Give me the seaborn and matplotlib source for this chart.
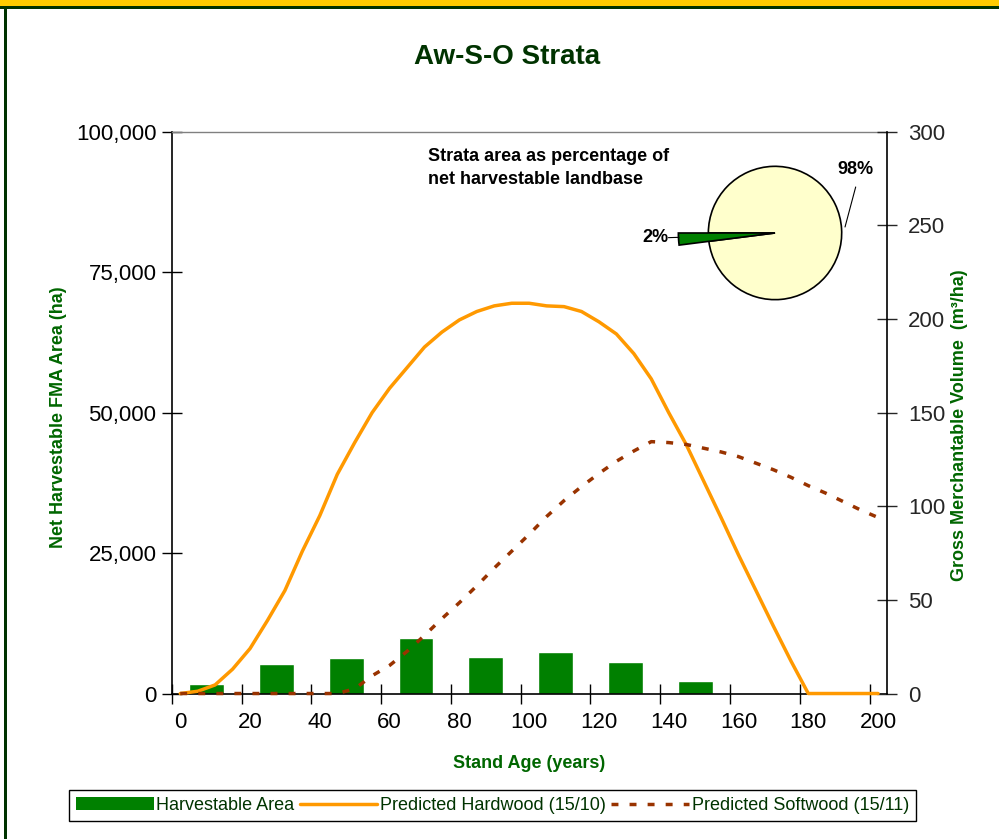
import matplotlib
matplotlib.use('Agg')
import numpy as np
import matplotlib.pyplot as plt
import seaborn as sns
from matplotlib.transforms import ScaledTranslation
from matplotlib.patches import Patch, Rectangle
from matplotlib.lines import Line2D
from matplotlib.ticker import StrMethodFormatter

sns.set_style('white')
plt.rcParams['font.family'] = ['Liberation Sans', 'DejaVu Sans']

# ---- data ----
# harvestable area by 20-year age class (class midpoints)
bar_age = [10, 30, 50, 70, 90, 110, 130, 150]
bar_area = [1700, 5250, 6300, 9900, 6550, 7400, 5600, 2250]

# yield curves, m3/ha every 5 years
ages = [0, 5, 10, 15, 20, 25, 30, 35, 40, 45, 50, 55, 60, 65, 70, 75, 80,
        85, 90, 95, 100, 105, 110, 115, 120, 125, 130, 135, 140, 145, 150,
        155, 160, 165, 170, 175, 180, 185, 190, 195, 200]
hardwood = [0, 1.2, 4.6, 13, 24, 39, 55, 76, 95, 117, 134, 150, 163, 174,
            185, 193, 199.5, 204, 207, 208.4, 208.4, 207, 206.6, 204, 198.5,
            192, 181.5, 168, 150, 133, 113.5, 94, 74, 55, 36, 17.5, 0, 0, 0,
            0, 0]
softwood = [0, 0, 0, 0, 0, 0, 0, 0, 0, 0, 2.5, 9.5, 15, 22.5, 31, 40, 48.5,
            57.5, 67, 76, 85, 94.5, 103, 110.5, 117.5, 124, 129.5, 134.5, 134,
            133, 131, 129, 126.5, 123, 119.5, 115.5, 111, 107, 102.5, 98, 94]

pie_share = [98, 2]
pie_labels = ['98%', '2%']

x_ticks = [0, 20, 40, 60, 80, 100, 120, 140, 160, 180, 200]
left_ticks = [0, 25000, 50000, 75000, 100000]
right_ticks = [0, 50, 100, 150, 200, 250, 300]

GREEN = '#008000'
ORANGE = '#FF9900'
BROWN = '#993300'
CREAM = '#FFFFCC'
TITLE_GREEN = '#003300'
LABEL_GREEN = '#006600'

fig = plt.figure(figsize=(9.99, 8.39), dpi=100)

# page border bits
fig.add_artist(Rectangle((0, 1 - 6 / 839), 1, 6 / 839, transform=fig.transFigure,
                         color='#FFCC00', lw=0))
fig.add_artist(Rectangle((0, 1 - 8.5 / 839), 1, 2.5 / 839, transform=fig.transFigure,
                         color=TITLE_GREEN, lw=0))
fig.add_artist(Rectangle((4 / 999, 0), 3 / 999, 1 - 6 / 839, transform=fig.transFigure,
                         color=TITLE_GREEN, lw=0))

ax = fig.add_axes([0.1719, 0.1734, 0.716, 0.6696])
ax2 = ax.twinx()

# bars
sns.barplot(x=bar_age, y=bar_area, native_scale=True, width=0.5, color=GREEN,
            saturation=1, errorbar=None, ax=ax)

# lines
sns.lineplot(x=ages, y=hardwood, color=ORANGE, lw=2.5, errorbar=None, ax=ax2)
sns.lineplot(x=ages, y=softwood, color=BROWN, lw=2.5, errorbar=None, ax=ax2)
ax2.lines[1].set_linestyle((0, (2, 3.2)))

# lines and x labels sit a bit right of the tick marks (Excel category axis)
shift = ScaledTranslation(0.085, 0, fig.dpi_scale_trans)
for ln in ax2.lines:
    ln.set_transform(ax2.transData + shift)
    ln.set_clip_on(False)

ax.set_xlim(0, 205)
ax.set_ylim(0, 100000)
ax2.set_ylim(0, 300)
ax.set_xticks(x_ticks)
ax.set_yticks(left_ticks)
ax2.set_yticks(right_ticks)
ax.yaxis.set_major_formatter(StrMethodFormatter('{x:,.0f}'))

ax.tick_params(axis='both', direction='inout', length=14, width=1, labelsize=16,
               colors='black', left=True, bottom=True)
ax.tick_params(axis='x', pad=6)
ax.tick_params(axis='y', pad=4)
ax2.tick_params(axis='y', direction='inout', length=14, width=1, labelsize=16,
                pad=8, right=True)
for lbl in ax.get_xticklabels():
    lbl.set_transform(lbl.get_transform() + shift)

for s in ['left', 'bottom']:
    ax.spines[s].set_color('black')
    ax.spines[s].set_linewidth(1.2)
ax.spines['top'].set_color('#808080')
ax.spines['top'].set_linewidth(1)
ax.spines['right'].set_visible(False)
for s in ['top', 'left', 'bottom']:
    ax2.spines[s].set_visible(False)
ax2.spines['right'].set_color('black')
ax2.spines['right'].set_linewidth(1.2)

ax.set_xlabel('Stand Age (years)', fontsize=13, fontweight='bold', color=LABEL_GREEN)
ax.xaxis.set_label_coords(0.5, -0.11)
ax.set_ylabel('Net Harvestable FMA Area (ha)', fontsize=13, fontweight='bold',
              color=LABEL_GREEN)
ax.yaxis.set_label_coords(-0.147, 0.492)
ax2.set_ylabel('Gross Merchantable Volume  (m³/ha)', fontsize=13, fontweight='bold',
               color=LABEL_GREEN)
ax2.yaxis.set_label_coords(1.089, 0.478)

fig.text(507 / 999, 1 - 57 / 839, 'Aw-S-O Strata', ha='center', va='center',
         fontsize=20, fontweight='bold', color=TITLE_GREEN)

# pie inset
fig.text(428 / 999, 1 - 148 / 839, 'Strata area as percentage of\nnet harvestable landbase',
         ha='left', va='top', fontsize=13, fontweight='bold', color='black',
         linespacing=1.45)
pax = fig.add_axes([0.6757, 0.6031, 0.2002, 0.2384])
wedges, _ = pax.pie(pie_share, colors=[CREAM, GREEN], startangle=187.2,
                    counterclock=True, radius=1,
                    wedgeprops=dict(edgecolor='black', linewidth=1.2))
wedges[1].set_radius(1.45)
pax.set_xlim(-1.5, 1.5)
pax.set_ylim(-1.5, 1.5)
pax.set_aspect('equal')
pax.axis('off')
pax.text(1.2, 0.945, pie_labels[0], ha='center', va='center', fontsize=13,
         fontweight='bold', color='black', clip_on=False)
pax.plot([1.21, 1.05], [0.69, 0.09], color='black', lw=0.8, clip_on=False)
pax.text(-1.8, -0.075, pie_labels[1], ha='center', va='center', fontsize=13,
         fontweight='bold', color='black', clip_on=False)
pax.plot([-1.6, -1.44], [-0.07, -0.065], color='black', lw=0.8, clip_on=False)

# legend
handles = [Patch(facecolor=GREEN, edgecolor='none'),
           Line2D([], [], color=ORANGE, lw=2.5),
           Line2D([], [], color=BROWN, lw=2.5, linestyle=(0, (2, 3.2)))]
labels = ['Harvestable Area', 'Predicted Hardwood (15/10)', 'Predicted Softwood (15/11)']
leg = fig.legend(handles, labels, loc='center', bbox_to_anchor=(492.5 / 999, 1 - 805.5 / 839),
                 ncol=3, frameon=True, fancybox=False, edgecolor='black', framealpha=1,
                 fontsize=13, handlelength=4.3, handletextpad=0.15, columnspacing=0.3,
                 borderpad=0.4, labelcolor=TITLE_GREEN)
leg.get_frame().set_linewidth(1)

fig.savefig('out.png', dpi=100)
